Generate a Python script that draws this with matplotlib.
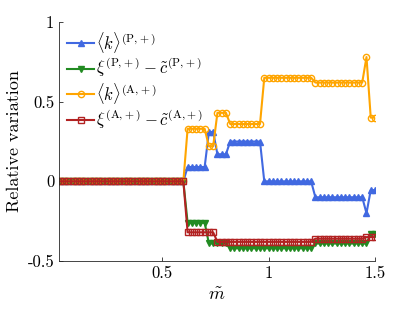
import numpy as np
import matplotlib
matplotlib.use("Agg")
import matplotlib.pyplot as plt

plt.rcParams["font.family"] = "serif"
plt.rcParams["font.serif"] = ["cmr10"]
plt.rcParams["mathtext.fontset"] = "cm"
plt.rcParams["axes.formatter.use_mathtext"] = True

# m tilde grid
m = np.round(np.arange(1, 76) * 0.02, 2)

# step levels: (last m of the step, value)
k_P_steps = [(0.60, 0.0), (0.70, 0.09), (0.74, 0.31), (0.80, 0.17), (0.96, 0.25),
             (1.20, 0.0), (1.44, -0.10), (1.46, -0.20), (1.50, -0.055)]
xi_P_steps = [(0.60, 0.0), (0.70, -0.26), (0.80, -0.39), (1.20, -0.42),
              (1.46, -0.39), (1.50, -0.33)]
k_A_steps = [(0.60, 0.0), (0.70, 0.33), (0.74, 0.22), (0.80, 0.43), (0.96, 0.36),
             (1.20, 0.65), (1.44, 0.62), (1.46, 0.78), (1.50, 0.40)]
xi_A_steps = [(0.60, 0.0), (0.74, -0.32), (1.20, -0.38), (1.44, -0.36), (1.50, -0.35)]


def expand(steps):
    vals = []
    for x in m:
        for end, v in steps:
            if x <= end + 1e-9:
                vals.append(v)
                break
    return np.array(vals)


series = [
    (expand(k_P_steps), "#4169E1", "^", r"$\langle k\rangle^{(\mathrm{P,\!+})}$", True),
    (expand(xi_P_steps), "#228B22", "v", r"$\xi^{(\mathrm{P,\!+})}-\tilde{c}^{(\mathrm{P,\!+})}$", True),
    (expand(k_A_steps), "#FFA500", "o", r"$\langle k\rangle^{(\mathrm{A,\!+})}$", False),
    (expand(xi_A_steps), "#B22222", "s", r"$\xi^{(\mathrm{A,\!+})}-\tilde{c}^{(\mathrm{A,\!+})}$", False),
]

fig = plt.figure(figsize=(4.15, 3.12), dpi=100)
ax = fig.add_axes([59 / 415, 51 / 312, 316 / 415, 239 / 312])

for vals, col, mk, lab, filled in series:
    ax.plot(m, vals, color=col, marker=mk, markersize=4.5, linewidth=1.5,
            markerfacecolor=col if filled else "none", markeredgewidth=1.0,
            label=lab)

ax.set_xlim(0.016, 1.5)
ax.set_ylim(-0.5, 1)
ax.set_xticks([0.5, 1, 1.5])
ax.set_xticklabels(["0.5", "1", "1.5"])
ax.set_yticks([-0.5, 0, 0.5, 1])
ax.set_yticklabels(["-0.5", "0", "0.5", "1"])
ax.spines["top"].set_visible(False)
ax.spines["right"].set_visible(False)
for s in ("left", "bottom"):
    ax.spines[s].set_color("#262626")
    ax.spines[s].set_linewidth(0.6)
ax.tick_params(direction="in", length=3, width=0.6, labelsize=12, colors="#262626",
               labelcolor="black")
ax.set_xlabel(r"$\tilde{m}$", fontsize=13)
ax.set_ylabel("Relative variation", fontsize=13)

ax.legend(loc="upper left", frameon=False, fontsize=12, handlelength=1.6,
          handletextpad=0.1, labelspacing=0.1, borderaxespad=0.2,
          bbox_to_anchor=(-0.005, 1.01))

fig.savefig("out.png", dpi=100)
